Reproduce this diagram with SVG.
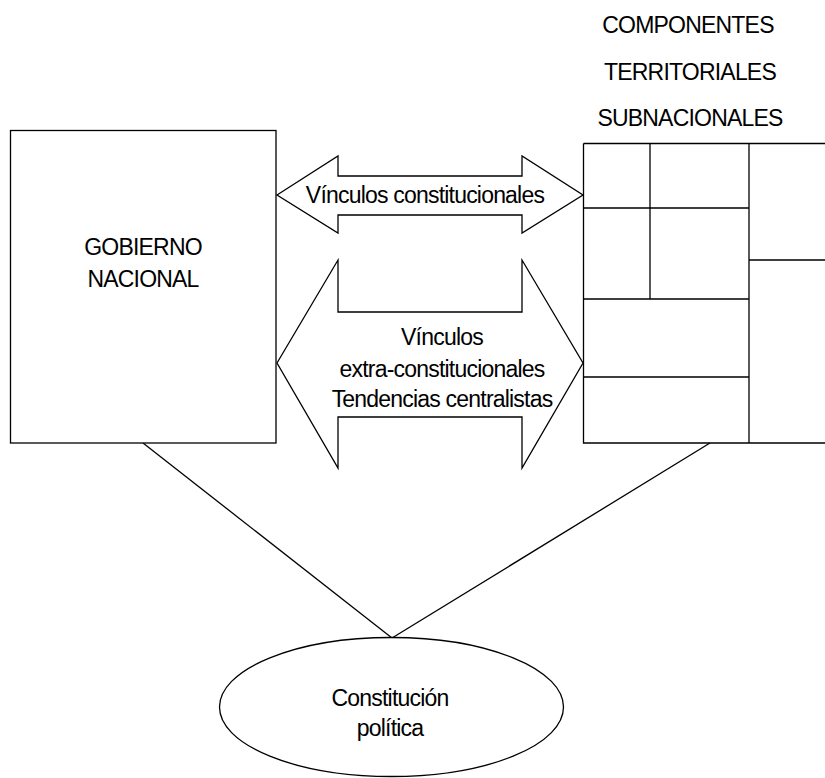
<svg xmlns="http://www.w3.org/2000/svg" width="825" height="778" viewBox="0 0 825 778">
<style>
.s{fill:#fff;stroke:#000;stroke-width:1.3}
.l{fill:none;stroke:#000;stroke-width:1.3}
.t{font-family:"Liberation Sans",Arial,sans-serif;font-size:23px;fill:#000;text-anchor:middle;letter-spacing:-0.8px}
</style>
<rect width="825" height="778" fill="#fff"/>
<g id="connectors">
<line class="l" x1="143" y1="443" x2="392" y2="638"/>
<line class="l" x1="710" y1="443" x2="392" y2="638"/>
</g>
<g id="gobierno">
<rect class="s" x="10.5" y="130.5" width="265.5" height="312.5"/>
<text class="t" x="143" y="255">GOBIERNO</text>
<text class="t" x="143" y="287">NACIONAL</text>
</g>
<g id="componentes">
<text class="t" x="688" y="33">COMPONENTES</text>
<text class="t" x="690" y="80">TERRITORIALES</text>
<text class="t" x="690" y="126">SUBNACIONALES</text>
<path class="l" d="M583.5,143.5 H826 M583.5,143.5 V443 H826 M650,143.5 V299 M749,143.5 V443 M583.5,208 H749 M749,260 H826 M583.5,299 H749 M583.5,377 H749"/>
</g>
<g id="vinculos-constitucionales">
<path class="s" d="M277,195 L338,156 V176 H522 V156 L583,195 L522,233 V215 H338 V233 Z"/>
<text class="t" x="425" y="203">Vínculos constitucionales</text>
</g>
<g id="vinculos-extra">
<path class="s" d="M277,363 L338,260 V312 H522 V260 L583,363 L522,468 V417 H338 V468 Z"/>
<text class="t" x="442" y="345">Vínculos</text>
<text class="t" x="442" y="377">extra-constitucionales</text>
<text class="t" x="442" y="407">Tendencias centralistas</text>
</g>
<g id="constitucion">
<ellipse class="s" cx="391.5" cy="707" rx="172" ry="69.5"/>
<text class="t" x="390" y="706">Constitución</text>
<text class="t" x="390" y="736">política</text>
</g>
</svg>
